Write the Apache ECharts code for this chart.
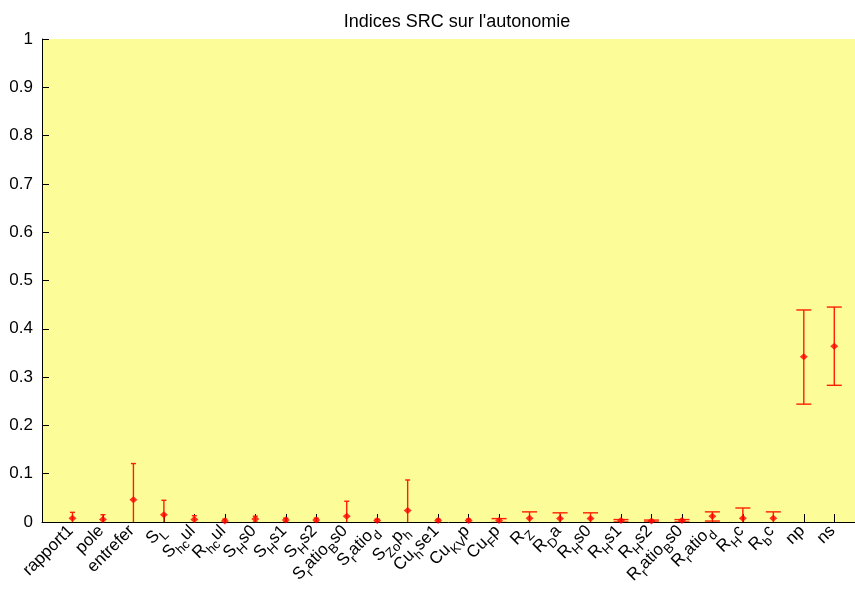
<!DOCTYPE html>
<html>
<head>
<meta charset="utf-8">
<script src="https://cdn.jsdelivr.net/npm/echarts@6/dist/echarts.min.js"></script>
<style>html,body{margin:0;padding:0;background:#fff;}#c{width:855px;height:592px;}</style>
</head>
<body>
<div id="c"></div>
<script>
// TeX-like labels: _{...} marks a subscript
const categories = ['rapport1','pole','entrefer','S_{L}','S_{hc}ul','R_{hc}ul','S_{H}s0','S_{H}s1','S_{H}s2',
  'S_{r}atio_{B}s0','S_{r}atio_{d}','S_{Zo}p_{h}','Cu_{h}se1','Cu_{KV}p','Cu_{F}p','R_{Z}','R_{D}a','R_{H}s0',
  'R_{H}s1','R_{H}s2','R_{r}atio_{B}s0','R_{r}atio_{d}','R_{H}c','R_{b}c','np','ns'];
const values = [0.008,0.005,0.046,0.015,0.005,0.002,0.006,0.004,0.004,0.012,0.003,0.024,0.003,0.003,0.003,
  0.008,0.007,0.007,0.003,0.002,0.003,0.012,0.008,0.008,0.342,0.364];
const lower = [-0.004,-0.005,-0.029,-0.015,-0.003,-0.002,0.000,0.000,0.000,-0.019,0.000,-0.039,0.000,0.000,-0.001,
  -0.005,-0.005,-0.005,0.000,0.000,0.000,0.002,-0.013,-0.005,0.244,0.283];
const upper = [0.020,0.015,0.121,0.045,0.013,0.006,0.012,0.008,0.008,0.043,0.006,0.087,0.006,0.006,0.007,
  0.021,0.019,0.019,0.005,0.004,0.005,0.021,0.029,0.021,0.439,0.445];
const yTicks = [0,0.1,0.2,0.3,0.4,0.5,0.6,0.7,0.8,0.9,1];

function toRich(s){
  let out = '';
  const re = /_\{([^}]*)\}/g;
  let last = 0, m;
  while ((m = re.exec(s)) !== null){
    if (m.index > last) out += '{n|' + s.slice(last, m.index) + '}';
    out += '{sub|' + m[1] + '}';
    last = re.lastIndex;
  }
  if (last < s.length) out += '{n|' + s.slice(last) + '}';
  return out;
}

const chart = echarts.init(document.getElementById('c'), null, {renderer:'canvas'});
const errData = categories.map((c,i)=>[i+1, lower[i], upper[i], i]);
const ptData = categories.map((c,i)=>[i+1, values[i]]);
const font = "'Liberation Sans', Arial, sans-serif";

chart.setOption({
  animation:false,
  backgroundColor:'#ffffff',
  title:{
    text:"Indices SRC sur l'autonomie",
    left:452, top:8, textAlign:'center',
    textStyle:{fontFamily:font, fontSize:18, fontWeight:'normal', color:'#000'}
  },
  grid:{left:42, right:0, top:39, bottom:70, show:true, backgroundColor:'#fcfc98', borderWidth:0},
  xAxis:{
    type:'value', min:0, max:26.68, interval:1,
    axisLine:{show:true, onZero:false, lineStyle:{color:'#000', width:1}},
    axisTick:{show:true, inside:true, length:8, lineStyle:{color:'#000'}},
    splitLine:{show:false},
    axisLabel:{
      rotate:45, margin:8, color:'#000', fontFamily:font, fontSize:17,
      showMaxLabel:false,
      formatter:function(v){
        const i = Math.round(v)-1;
        if (i < 0 || i >= categories.length || Math.abs(v - Math.round(v)) > 1e-6) return '';
        return toRich(categories[i]);
      },
      rich:{
        n:{fontSize:17, fontFamily:font, color:'#000', lineHeight:22, verticalAlign:'top'},
        sub:{fontSize:13, fontFamily:font, color:'#000', lineHeight:22, verticalAlign:'bottom'}
      }
    }
  },
  yAxis:{
    type:'value', min:0, max:1, interval:0.1,
    axisLine:{show:true, lineStyle:{color:'#000', width:1}},
    axisTick:{show:true, inside:true, length:7, lineStyle:{color:'#000'}},
    splitLine:{show:false},
    axisLabel:{color:'#000', fontFamily:font, fontSize:17, margin:9,
      formatter:function(v){
        const t = yTicks.find(x=>Math.abs(x-v)<1e-9);
        return t === undefined ? '' : String(t);
      }}
  },
  series:[
    {
      type:'custom', clip:true, z:3,
      data:errData,
      renderItem:function(params, api){
        const x = api.value(0);
        const lo = api.coord([x, api.value(1)]);
        const hi = api.coord([x, api.value(2)]);
        const idx = api.value(3);
        const hw = idx < 14 ? 2.5 : 7.5;
        const px = lo[0];
        const st = {stroke:'#ff2000', lineWidth:1.4, fill:null};
        return {type:'group', children:[
          {type:'line', shape:{x1:px, y1:lo[1], x2:px, y2:hi[1]}, style:st},
          {type:'line', shape:{x1:px-hw, y1:hi[1], x2:px+hw, y2:hi[1]}, style:st},
          {type:'line', shape:{x1:px-hw, y1:lo[1], x2:px+hw, y2:lo[1]}, style:st}
        ]};
      }
    },
    {
      type:'scatter', z:4, data:ptData, symbol:'diamond', symbolSize:[8,7],
      itemStyle:{color:'#ff0000'}, clip:true
    }
  ]
});
</script>
</body>
</html>
